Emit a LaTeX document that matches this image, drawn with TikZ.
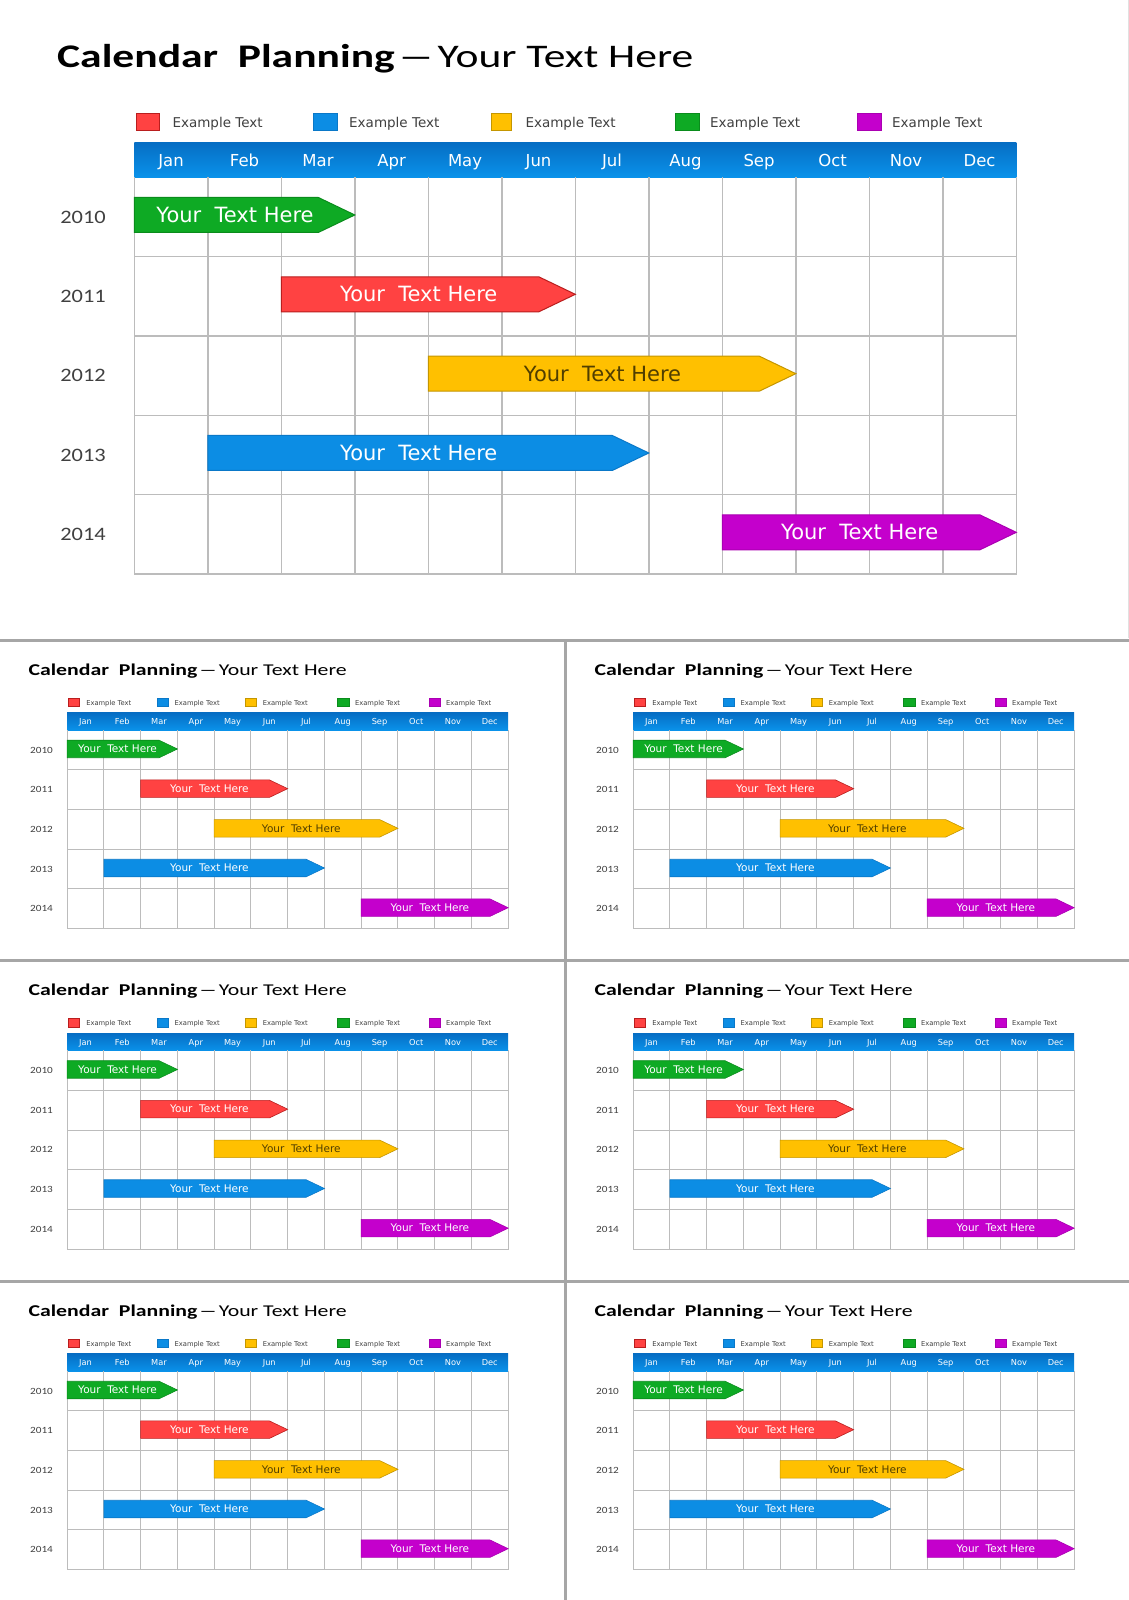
\documentclass[tikz,border=0pt]{standalone}
\usepackage{graphicx}
\usepackage{fontspec}
\setmainfont{DejaVu Sans}
\newfontfamily\titlefont[FakeStretch=1.32]{Carlito}
\newfontfamily\yearfont[FakeStretch=1.18]{Carlito}
\definecolor{cred}{RGB}{255,66,66}
\definecolor{credd}{RGB}{185,30,30}
\definecolor{cblue}{RGB}{12,141,228}
\definecolor{cblued}{RGB}{10,120,200}
\definecolor{cyel}{RGB}{255,192,0}
\definecolor{cyeld}{RGB}{196,150,0}
\definecolor{cgreen}{RGB}{14,170,36}
\definecolor{cgreend}{RGB}{10,140,28}
\definecolor{cpurp}{RGB}{196,0,204}
\definecolor{cpurpd}{RGB}{170,0,178}
\definecolor{hdtop}{RGB}{6,110,196}
\definecolor{hdbot}{RGB}{10,146,234}
\definecolor{txtgray}{RGB}{64,64,64}
\definecolor{yeltext}{RGB}{80,62,0}
\definecolor{gridgray}{RGB}{188,188,188}
\definecolor{sepgray}{RGB}{166,166,166}
\definecolor{framegray}{RGB}{225,225,225}
\tikzset{
  titlestyle/.style={anchor=base west, inner sep=0pt, font=\titlefont\fontsize{33}{38}\selectfont},
  legtext/.style={anchor=base west, inner sep=0pt, text=txtgray, font=\fontsize{13.5}{15}\selectfont},
  monthlbl/.style={anchor=base, inner sep=0pt, text=white, font=\fontsize{16.5}{19}\selectfont},
  yearlbl/.style={inner sep=0pt, text=txtgray, font=\yearfont\fontsize{19}{22}\selectfont},
  bartext/.style={inner sep=0pt, font=\fontsize{21}{24}\selectfont},
  gridline/.style={draw=gridgray, line cap=rect},
  sepline/.style={draw=sepgray, line width=3pt},
}
% #1 name, #2 start col, #3 end col, #4 row, #5 fill, #6 draw, #7 text colour, #8 line width
\newcommand\calbar[8]{%
  \pgfmathsetmacro\xa{134.3+73.5*#2}%
  \pgfmathsetmacro\xb{134.3+73.5*#3}%
  \pgfmathsetmacro\yc{177.3+79.34*(#4-0.5)-2}%
  \pgfmathsetmacro\xt{(\xa+\xb)/2-9.5}%
  \draw[fill=#5, draw=#6, line width=#8] (\xa,\yc-17.5) -- (\xb-36.5,\yc-17.5) -- (\xb,\yc) -- (\xb-36.5,\yc+17.5) -- (\xa,\yc+17.5) -- cycle;
  \node[bartext, text=#7] (#1) at (\xt,\yc) {Your\ \ Text Here};
}
% #1 prefix, #2 grid line width, #3 bar line width
\newcommand\calslide[3]{%
  \node[titlestyle] (#1title) at (57,67.3) {{\bfseries Calendar\ \ Planning}\hspace{3pt}\scalebox{1.7}[1]{–}\hspace{3pt}Your Text Here};
  \foreach \fc/\dc/\xa/\xb/\xt [count=\i] in {cred/credd/136.7/159.3/172.3, cblue/cblued/313.7/337.3/349, cyel/cyeld/491/511.7/525.3, cgreen/cgreend/675.4/699/709.9, cpurp/cpurpd/857.6/881.2/892}{
    \draw[line width=#3, fill=\fc, draw=\dc] (\xa,113.5) rectangle (\xb,130.5);
    \node[legtext] (#1leg\i) at (\xt,127.3) {Example Text};
  }
  \shade[top color=hdtop, bottom color=hdbot] (134.3,142.7) rectangle (1016.3,177.3);
  \foreach \m [count=\i from 0] in {Jan,Feb,Mar,Apr,May,Jun,Jul,Aug,Sep,Oct,Nov,Dec}{
    \node[monthlbl] (#1m\i) at ({134.3+73.5*(\i+0.5)},166.5) {\m};
  }
  \foreach \k in {0,...,12}{\draw[gridline, line width=#2] ({134.3+73.5*\k},177.3) -- ({134.3+73.5*\k},574);}
  \foreach \j in {1,...,5}{\draw[gridline, line width=#2] (134.3,{177.3+79.34*\j}) -- (1016.3,{177.3+79.34*\j});}
  \foreach \yr [count=\j] in {2010,2011,2012,2013,2014}{
    \node[yearlbl] (#1y\j) at (83,{177.3+79.34*(\j-0.5)}) {\yr};
  }
  \calbar{#1b1}{0}{3}{1}{cgreen}{cgreend}{white}{#3}
  \calbar{#1b2}{2}{6}{2}{cred}{credd}{white}{#3}
  \calbar{#1b3}{4}{9}{3}{cyel}{cyeld}{yeltext}{#3}
  \calbar{#1b4}{1}{7}{4}{cblue}{cblued}{white}{#3}
  \calbar{#1b5}{8}{12}{5}{cpurp}{cpurpd}{white}{#3}
}
\begin{document}
\begin{tikzpicture}[x=1pt, y=-1pt]
  \useasboundingbox (0,0) rectangle (1129,1600);
  \fill[white] (0,0) rectangle (1129,1600);
  % big slide
  \calslide{A}{1.5pt}{1pt}
  \draw[framegray, line width=1pt] (1128.5,0) -- (1128.5,638);
  % small slides
  \begin{scope}[shift={(0,641.5)}, scale=0.5, transform shape]\calslide{B}{0.9pt}{0.6pt}\end{scope}
  \begin{scope}[shift={(566,641.5)}, scale=0.5, transform shape]\calslide{C}{0.9pt}{0.6pt}\end{scope}
  \begin{scope}[shift={(0,962)}, scale=0.5, transform shape]\calslide{D}{0.9pt}{0.6pt}\end{scope}
  \begin{scope}[shift={(566,962)}, scale=0.5, transform shape]\calslide{E}{0.9pt}{0.6pt}\end{scope}
  \begin{scope}[shift={(0,1282.5)}, scale=0.5, transform shape]\calslide{F}{0.9pt}{0.6pt}\end{scope}
  \begin{scope}[shift={(566,1282.5)}, scale=0.5, transform shape]\calslide{G}{0.9pt}{0.6pt}\end{scope}
  % separators
  \coordinate (h1a) at (0,640); \coordinate (h1b) at (1129,640);
  \coordinate (h2a) at (0,960.5); \coordinate (h2b) at (1129,960.5);
  \coordinate (h3a) at (0,1281); \coordinate (h3b) at (1129,1281);
  \coordinate (v1a) at (565.5,640); \coordinate (v1b) at (565.5,1600);
  \draw[sepline] (h1a) -- (h1b);
  \draw[sepline] (h2a) -- (h2b);
  \draw[sepline] (h3a) -- (h3b);
  \draw[sepline] (v1a) -- (v1b);
\end{tikzpicture}
\end{document}
